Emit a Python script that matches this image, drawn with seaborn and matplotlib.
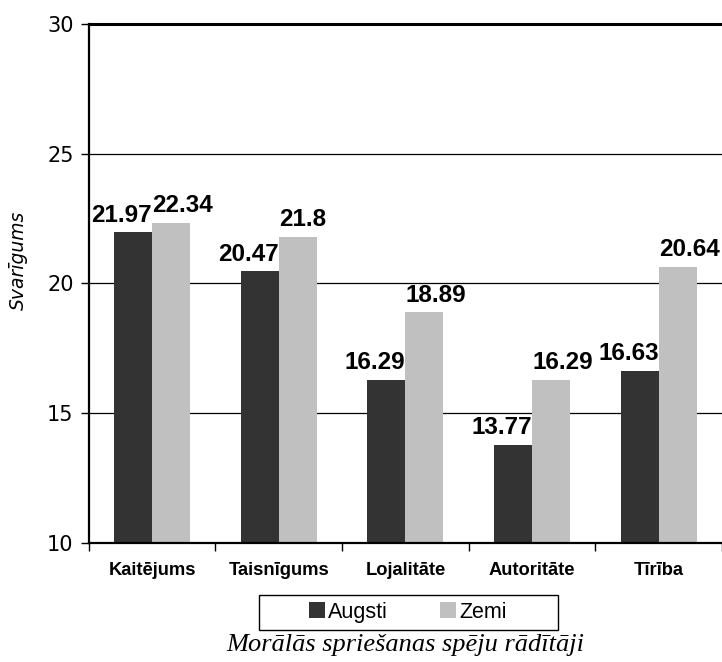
import pandas as pd
import seaborn as sns
import numpy as np
import matplotlib.pyplot as plt
from matplotlib.patches import Patch, Rectangle

# data
categories = ['Kaitējums', 'Taisnīgums', 'Lojalitāte', 'Autoritāte', 'Tīrība']
augsti = [21.97, 20.47, 16.29, 13.77, 16.63]
zemi = [22.34, 21.8, 18.89, 16.29, 20.64]
groups = ['Augsti', 'Zemi']
colors = ['#333333', '#c0c0c0']

df = pd.DataFrame({
    'kat': categories * 2,
    'grupa': ['Augsti'] * len(categories) + ['Zemi'] * len(categories),
    'val': augsti + zemi,
})

sns.set_theme(style='white')
plt.rcParams['font.family'] = ['Liberation Sans', 'DejaVu Sans']
plt.rcParams['text.color'] = 'black'
plt.rcParams['xtick.color'] = 'black'
plt.rcParams['ytick.color'] = 'black'

fig = plt.figure(figsize=(7.22, 6.62), dpi=100)
ax = fig.add_axes([0.123, 0.180, 0.877, 0.784])

sns.barplot(data=df, x='kat', y='val', hue='grupa', order=categories,
            hue_order=groups, palette=colors, width=0.6, saturation=1,
            linewidth=0, ax=ax, legend=False)

ax.set_ylim(10, 30)
ax.set_xlim(-0.5, len(categories) - 0.5)
ax.set_yticks([10, 15, 20, 25, 30])
ax.set_yticklabels(['10', '15', '20', '25', '30'], fontsize=15,
                   family='DejaVu Sans')
ax.yaxis.grid(True, color='black', linewidth=0.9)
ax.set_axisbelow(True)

# ticks between categories
ax.set_xticks(np.arange(len(categories)))
ax.set_xticklabels(categories, fontsize=13.2, fontweight='bold')
ax.set_xticks(np.arange(len(categories) + 1) - 0.5, minor=True)
ax.tick_params(axis='x', which='major', length=0, pad=14)
ax.tick_params(axis='x', which='minor', length=6, width=1, color='black',
               direction='out', bottom=True)
ax.tick_params(axis='y', length=6, width=1, color='black', direction='out',
               left=True, pad=5)

for s in ['left', 'bottom', 'top']:
    ax.spines[s].set_color('black')
    ax.spines[s].set_linewidth(1.6)
ax.spines['top'].set_linewidth(2.2)
ax.spines['right'].set_visible(False)

ax.set_xlabel('')
ax.set_ylabel('')
fig.text(0.025, 0.607, 'Svarīgums', rotation=90, style='italic',
         fontsize=13.5, ha='center', va='center', family='DejaVu Sans')

# value labels
for i in range(len(categories)):
    ax.annotate(f'{augsti[i]:g}', xy=(i, augsti[i]), xytext=(0, 4),
                textcoords='offset points', ha='right', va='bottom',
                fontsize=17.5, fontweight='bold')
    ax.annotate(f'{zemi[i]:g}', xy=(i, zemi[i]), xytext=(0, 4),
                textcoords='offset points', ha='left', va='bottom',
                fontsize=17.5, fontweight='bold')

handles = [Patch(facecolor=c, edgecolor='none') for c in colors]
fig.legend(handles, groups, loc='center', bbox_to_anchor=(0.565, 0.0755),
           ncol=2, fontsize=15.5, frameon=False,
           handlelength=0.75, handleheight=0.75, handletextpad=0.15,
           columnspacing=2.4, borderpad=0.2)
fig.patches.append(Rectangle((259 / 722, 1 - 630 / 662), 299 / 722, 35 / 662,
                             transform=fig.transFigure, fill=False,
                             edgecolor='black', linewidth=1.0))

fig.text(0.5616, 0.026, 'Morālās spriešanas spēju rādītāji',
         family='Liberation Serif', style='italic',
         fontsize=19, ha='center', va='center')

fig.savefig('out.png', dpi=100)
